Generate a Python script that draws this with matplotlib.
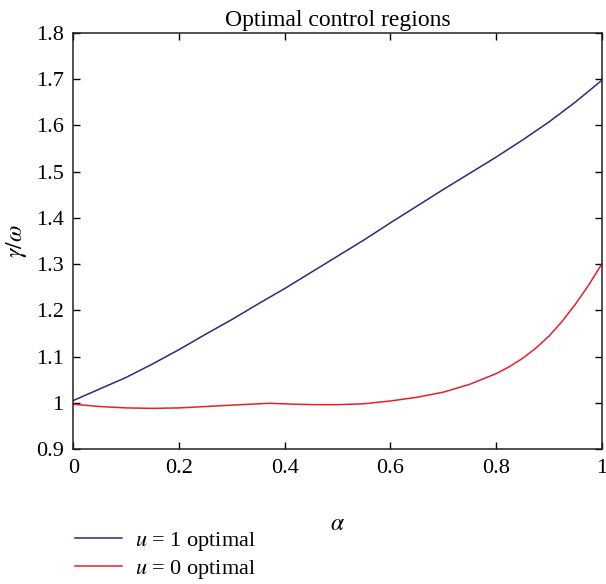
import matplotlib
matplotlib.use("Agg")
import matplotlib.pyplot as plt

plt.rcParams["font.family"] = ["Liberation Serif", "DejaVu Serif"]
plt.rcParams["mathtext.fontset"] = "stix"

# values
alpha = [0.0, 0.05, 0.1, 0.15, 0.2, 0.25, 0.3, 0.35, 0.4, 0.45, 0.5,
         0.55, 0.6, 0.65, 0.7, 0.75, 0.8, 0.85, 0.9, 0.95, 1.0]
u1_optimal = [1.005, 1.030, 1.055, 1.084, 1.115, 1.148, 1.180, 1.214, 1.247, 1.282, 1.317,
              1.352, 1.389, 1.425, 1.461, 1.496, 1.531, 1.568, 1.607, 1.650, 1.697]
alpha_red = [0.0, 0.05, 0.1, 0.15, 0.2, 0.25, 0.3, 0.37, 0.42, 0.46, 0.5,
             0.55, 0.6, 0.65, 0.7, 0.75, 0.8, 0.825, 0.85, 0.875, 0.9,
             0.925, 0.95, 0.975, 1.0]
u0_optimal = [0.997, 0.992, 0.989, 0.988, 0.989, 0.992, 0.995, 0.999, 0.997, 0.996, 0.996,
              0.998, 1.004, 1.012, 1.023, 1.040, 1.063, 1.078, 1.096, 1.118, 1.144,
              1.176, 1.213, 1.254, 1.300]
x_ticks = [0, 0.2, 0.4, 0.6, 0.8, 1]
x_tick_labels = ["0", "0.2", "0.4", "0.6", "0.8", "1"]
y_ticks = [0.9, 1.0, 1.1, 1.2, 1.3, 1.4, 1.5, 1.6, 1.7, 1.8]
y_tick_labels = ["0.9", "1", "1.1", "1.2", "1.3", "1.4", "1.5", "1.6", "1.7", "1.8"]

fig = plt.figure(figsize=(6.06, 5.84), dpi=100)
ax = fig.add_axes([0.121, 0.231, 0.872, 0.713])

l1, = ax.plot(alpha, u1_optimal, color="#2b2a7c", lw=1.1)
l2, = ax.plot(alpha_red, u0_optimal, color="#e8202a", lw=1.1)

ax.set_xlim(0, 1)
ax.set_ylim(0.9, 1.8)
ax.set_xticks(x_ticks)
ax.set_xticklabels(x_tick_labels)
ax.set_yticks(y_ticks)
ax.set_yticklabels(y_tick_labels)
ax.tick_params(direction="in", top=True, right=True, length=5, width=1,
               labelsize=16, pad=7)
for s in ax.spines.values():
    s.set_linewidth(1.1)
    s.set_color("#222222")

ax.set_title("Optimal control regions", fontsize=17, pad=5)
ax.set_xlabel(r"$\alpha$", fontsize=17, labelpad=26)
ax.set_ylabel(r"$\gamma/\omega$", fontsize=17, labelpad=5)

fig.legend([l1, l2], [r"$u$ = 1 optimal", r"$u$ = 0 optimal"],
           loc="upper left", bbox_to_anchor=(0.124, 0.092), frameon=False,
           fontsize=16, handlelength=2.1, handletextpad=0.6, labelspacing=0.2,
           borderaxespad=0, borderpad=0)

plt.savefig("out.png", dpi=100)
